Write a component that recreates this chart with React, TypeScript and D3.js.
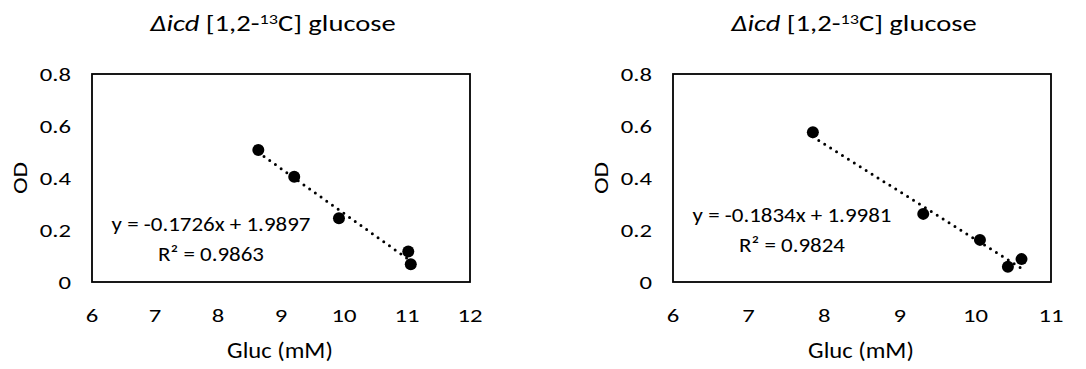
import React from "react";
import * as d3 from "d3";

const xTicksLeft = [6, 7, 8, 9, 10, 11, 12];
const xTicksRight = [6, 7, 8, 9, 10, 11];
const yTicks = [0, 0.2, 0.4, 0.6, 0.8];
const yTickLabels = ["0", "0.2", "0.4", "0.6", "0.8"];

const leftGluc = [8.64, 9.21, 9.92, 11.02, 11.06];
const leftOD = [0.508, 0.405, 0.245, 0.117, 0.068];
const leftFit = { slope: -0.1726, intercept: 1.9897 };
const leftEq = ["y = -0.1726x + 1.9897", "R² = 0.9863"];

const rightGluc = [7.85, 9.31, 10.06, 10.43, 10.61];
const rightOD = [0.576, 0.262, 0.162, 0.059, 0.088];
const rightFit = { slope: -0.1834, intercept: 1.9981 };
const rightEq = ["y = -0.1834x + 1.9981", "R² = 0.9824"];

const FONT = "Carlito, Calibri, 'Open Sans', sans-serif";

type PanelProps = {
  x0: number;
  xDomain: [number, number];
  xTicks: number[];
  gluc: number[];
  od: number[];
  fit: { slope: number; intercept: number };
  eq: string[];
  eqY: number;
};

const Panel = ({ x0, xDomain, xTicks, gluc, od, fit, eq, eqY }: PanelProps) => {
  const x1 = x0 + 378;
  const yTop = 74;
  const yBot = 282;
  const x = d3.scaleLinear().domain(xDomain).range([x0, x1]);
  const y = d3.scaleLinear().domain([0, 0.8]).range([yBot, yTop]);
  const xmin = d3.min(gluc) as number;
  const xmax = d3.max(gluc) as number;
  const line = d3.line<number>()
    .x((d) => x(d))
    .y((d) => y(fit.slope * d + fit.intercept));
  const cx = (x0 + x1) / 2;
  const st = (px: number, py: number, s: number) => `translate(${px},${py}) scale(${s},1)`;
  return (
    <g fontFamily={FONT} fill="#000">
      <text transform={st(x0 + 181, 31, 1.3)} textAnchor="middle" fontSize={22}>
        <tspan fontStyle="italic">Δicd</tspan>
        <tspan> [1,2-</tspan>
        <tspan fontSize={14} dy={-7}>13</tspan>
        <tspan dy={7}>C] glucose</tspan>
      </text>
      <rect x={x0} y={yTop} width={x1 - x0} height={yBot - yTop} fill="none" stroke="#000" strokeWidth={1.8} />
      {yTicks.map((t, i) => (
        <text key={t} transform={st(x0 - 21, y(t) + 6.5, 1.3)} textAnchor="end" fontSize={19}>
          {yTickLabels[i]}
        </text>
      ))}
      {xTicks.map((t) => (
        <text key={t} transform={st(x(t), 322, 1.3)} textAnchor="middle" fontSize={19}>
          {t}
        </text>
      ))}
      <text transform={st(cx - 1, 358, 1.12)} textAnchor="middle" fontSize={22}>Gluc (mM)</text>
      <text transform={`translate(${x0 - 65},${(yTop + yBot) / 2}) rotate(-90) scale(1.2,1)`} textAnchor="middle" fontSize={21}>OD</text>
      <path d={line([xmin, xmax]) as string} fill="none" stroke="#000" strokeWidth={3} strokeLinecap="round" strokeDasharray="0 7" />
      {gluc.map((g, i) => (
        <circle key={i} cx={x(g)} cy={y(od[i])} r={6} fill="#000" />
      ))}
      <text transform={st(x0 + 119, eqY, 1.12)} textAnchor="middle" fontSize={20.5}>{eq[0]}</text>
      <text transform={st(x0 + 119, eqY + 30, 1.12)} textAnchor="middle" fontSize={20.5}>{eq[1]}</text>
    </g>
  );
};

export default function App() {
  return (
    <svg width={1086} height={369} style={{ position: "absolute", left: 0, top: 0, background: "#fff" }}>
      <rect width={1086} height={369} fill="#fff" />
      <Panel x0={92} xDomain={[6, 12]} xTicks={xTicksLeft} gluc={leftGluc} od={leftOD} fit={leftFit} eq={leftEq} eqY={231} />
      <Panel x0={673} xDomain={[6, 11]} xTicks={xTicksRight} gluc={rightGluc} od={rightOD} fit={rightFit} eq={rightEq} eqY={222} />
    </svg>
  );
}
